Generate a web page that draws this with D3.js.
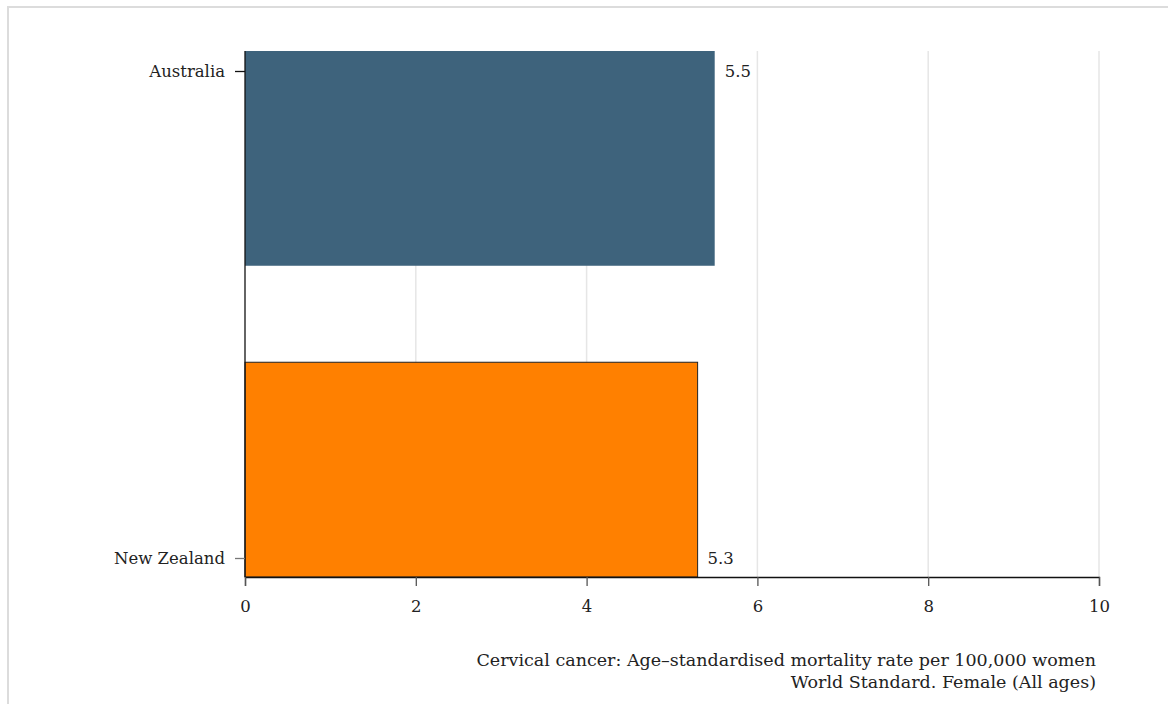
<!DOCTYPE html>
<html>
<head>
<meta charset="utf-8">
<script src="https://cdn.jsdelivr.net/npm/d3@7"></script>
<style>
  body { margin: 0; background: #fff; }
  text { font-family: "DejaVu Serif", serif; fill: #222; }
</style>
</head>
<body>
<div id="chart-area"></div>
<script>
// cervical cancer mortality, Australia vs New Zealand
const countries = ["Australia", "New Zealand"];
const rates = [5.5, 5.3];
const barColors = ["#3e637c", "#ff8000"];
const xTicks = [0, 2, 4, 6, 8, 10];
const captionLines = [
  "Cervical cancer: Age\u2013standardised mortality rate per 100,000 women",
  "World Standard. Female (All ages)"
];

const width = 1168;
const height = 704;

const svg = d3.select("#chart-area")
  .append("svg")
  .attr("width", width)
  .attr("height", height);

// light frame
svg.append("rect")
  .attr("x", 8)
  .attr("y", 7)
  .attr("width", width)
  .attr("height", height)
  .attr("fill", "none")
  .attr("stroke", "#dcdcdc")
  .attr("stroke-width", 2);

const x = d3.scaleLinear().domain([0, 10]).range([245, 1099]);

const y = d3.scaleBand()
  .domain(countries)
  .range([51, 577])
  .paddingInner(0.31)
  .paddingOuter(0);

// label positions (stata-style, near top / bottom of plot)
const yLabel = d3.scalePoint().domain(countries).range([71, 558]);

// gridlines
svg.append("g")
  .selectAll("line")
  .data(xTicks.filter(d => d > 0))
  .enter()
  .append("line")
  .attr("x1", d => x(d))
  .attr("x2", d => x(d))
  .attr("y1", 51)
  .attr("y2", 577)
  .attr("stroke", "#e6e6e6")
  .attr("stroke-width", 1.5);

const data = countries.map((c, i) => ({ country: c, rate: rates[i], color: barColors[i] }));

svg.selectAll("rect.bar")
  .data(data)
  .enter()
  .append("rect")
  .attr("class", "bar")
  .attr("x", x(0))
  .attr("y", d => y(d.country))
  .attr("width", d => x(d.rate) - x(0))
  .attr("height", y.bandwidth())
  .attr("fill", d => d.color)
  .attr("stroke", (d, i) => i === 1 ? "#222" : "none")
  .attr("stroke-width", 1);

// value labels
svg.selectAll("text.val")
  .data(data)
  .enter()
  .append("text")
  .attr("class", "val")
  .attr("x", d => x(d.rate) + 10)
  .attr("y", d => yLabel(d.country))
  .attr("dy", "0.35em")
  .attr("font-size", 16.5)
  .text(d => d3.format(".1f")(d.rate));

// x axis
const xAxis = svg.append("g")
  .attr("transform", "translate(0,577)")
  .call(d3.axisBottom(x).tickValues(xTicks).tickSize(9).tickPadding(14).tickFormat(d3.format("d")));
xAxis.select(".domain").attr("stroke", "#111").attr("stroke-width", 1.3);
xAxis.selectAll(".tick line").attr("stroke", "#555").attr("stroke-width", 1.3);
xAxis.selectAll(".tick text")
  .attr("font-family", "DejaVu Serif, serif")
  .attr("font-size", 16.5)
  .attr("fill", "#222");

// y axis
const yAxis = svg.append("g")
  .attr("transform", "translate(245,0)")
  .call(d3.axisLeft(yLabel).tickSize(10).tickPadding(10));
yAxis.select(".domain").attr("d", "M0,51V577").attr("stroke", "#111").attr("stroke-width", 1.3);
yAxis.selectAll(".tick line").attr("stroke", (d, i) => i === 0 ? "#111" : "#777").attr("stroke-width", 1.3);
yAxis.selectAll(".tick text")
  .attr("font-family", "DejaVu Serif, serif")
  .attr("font-size", 16.5)
  .attr("fill", "#222");

// caption
svg.append("g")
  .selectAll("text")
  .data(captionLines)
  .enter()
  .append("text")
  .attr("x", 1096)
  .attr("y", (d, i) => 666 + i * 22)
  .attr("text-anchor", "end")
  .attr("font-size", 17.5)
  .text(d => d);
</script>
</body>
</html>
